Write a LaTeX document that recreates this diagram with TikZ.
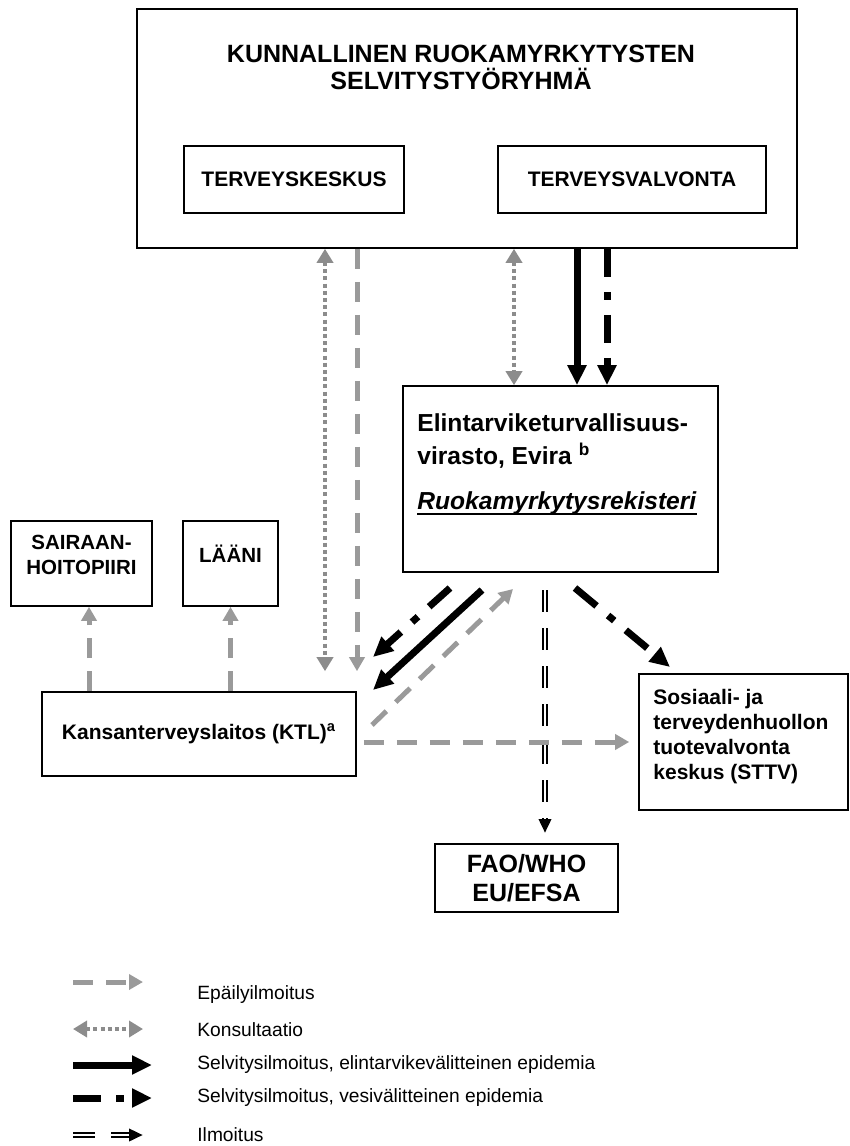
\documentclass[tikz,border=0pt]{standalone}
\usepackage{fontspec}
\setmainfont{Liberation Sans}
\usetikzlibrary{positioning, arrows.meta}
\definecolor{EpaGray}{HTML}{9A9A9A}
\definecolor{KonsGray}{HTML}{8C8C8C}
\newcommand{\regline}[1]{\leavevmode{\setbox0\hbox{#1}\rlap{\vrule height -1.8pt depth 2.9pt width \wd0}\box0}}

\begin{document}
\begin{tikzpicture}[x=0.5pt, y=-0.5pt,
    box/.style={draw, line width=0.8pt, inner sep=0pt},
    txt/.style={inner sep=0pt, font=\bfseries\fontsize{10.5}{12.5}\selectfont},
    legtext/.style={inner sep=0pt, anchor=west, font=\fontsize{9.6}{11}\selectfont},
    epa/.style={EpaGray, line width=2.5pt, dash pattern=on 10pt off 6.5pt, -{Triangle[length=7pt, width=7.5pt]}},
    kons/.style={KonsGray, line width=2.2pt, dash pattern=on 2pt off 1.6pt, {Triangle[length=7pt, width=8pt]}-{Triangle[length=7pt, width=8pt]}},
    selvr/.style={line width=3.5pt, -{Triangle[length=10pt, width=9pt]}},
    selvv/.style={line width=3.5pt, dash pattern=on 14pt off 7.5pt on 4pt off 7.5pt, -{Triangle[length=10pt, width=9pt]}},
    ilm/.style={line width=2.8pt, dash pattern=on 11pt off 8pt, -{Triangle[length=7pt, width=6pt]},
        postaction={draw=white, line width=1.4pt, -, shorten >=7pt}}
]
\useasboundingbox (0,0) rectangle (850,1146);

% municipal working group
\node[box, minimum width=330pt, minimum height=119.5pt] (kunta) at (467,128.5) {};
\node[txt, align=center, font=\bfseries\fontsize{12.5}{13.5}\selectfont] (kuntatitle) at (461,67) {KUNNALLINEN RUOKAMYRKYTYSTEN\\SELVITYSTYÖRYHMÄ};
\node[box, txt, minimum width=110pt, minimum height=33.5pt] (tk) at (294,179.5) {TERVEYSKESKUS};
\node[box, txt, minimum width=134pt, minimum height=33.5pt] (tv) at (632,179.5) {TERVEYSVALVONTA};

% Evira
\node[box, minimum width=157.5pt, minimum height=93pt] (evira) at (560.5,479) {};
\node[txt, anchor=north west, align=left, font=\bfseries\fontsize{12.3}{16.5}\selectfont] (eviratext) at (417,413)
    {Elintarviketurvallisuus-\\virasto, Evira \textsuperscript{b}\\[6pt]\regline{\textit{Ruokamyrkytysrekisteri}}};

% left side
\node[box, minimum width=70.5pt, minimum height=42.5pt] (shp) at (81.5,563.5) {};
\node[txt, align=center, font=\bfseries\fontsize{10.25}{12.5}\selectfont] (shptext) at (81.5,554.5) {SAIRAAN-\\HOITOPIIRI};
\node[box, minimum width=47.5pt, minimum height=42.5pt] (laani) at (230.5,563.5) {};
\node[txt, font=\bfseries\fontsize{10.25}{12.5}\selectfont] (laanitext) at (230.5,554) {LÄÄNI};
\node[box, txt, minimum width=157pt, minimum height=42pt] (ktl) at (199,734) {Kansanterveyslaitos (KTL)\textsuperscript{a}};

% right side and bottom
\node[box, minimum width=104.5pt, minimum height=68pt] (sttv) at (743.5,742) {};
\node[txt, anchor=north west, align=left] (sttvtext) at (653,689) {Sosiaali- ja\\terveydenhuollon\\tuotevalvonta\\keskus (STTV)};
\node[box, txt, align=center, minimum width=91.5pt, minimum height=34pt, font=\bfseries\fontsize{12.5}{14.5}\selectfont] (fao) at (526.5,878) {FAO/WHO\\EU/EFSA};

% free ends of the connectors below Evira
\coordinate (vesiA) at (450,588);
\coordinate (vesiB) at (373,657);
\coordinate (elinA) at (482,590);
\coordinate (elinB) at (373,690);
\coordinate (epaA) at (372,725);
\coordinate (epaB) at (513,589);
\coordinate (ilmA) at (545,590);
\coordinate (ilmB) at (545,833);
\coordinate (sttvA) at (575,588);
\coordinate (sttvB) at (670,667);

% connectors
\draw[ilm] (ilmA) -- (ilmB);
\draw[kons, shorten >=10pt] (kunta.south -| 325,0) -- (ktl.north -| 325,0);
\draw[epa, shorten >=10pt] (kunta.south -| 357,0) -- (ktl.north -| 357,0);
\draw[kons] (kunta.south -| 514,0) -- (evira.north -| 514,0);
\draw[selvr] (kunta.south -| 577,0) -- (evira.north -| 577,0);
\draw[selvv] (kunta.south -| 607,0) -- (evira.north -| 607,0);
\draw[epa] (ktl.north -| 89,0) -- (shp.south -| 89,0);
\draw[epa] (ktl.north -| 230.5,0) -- (laani.south);
\draw[selvv] (vesiA) -- (vesiB);
\draw[selvr] (elinA) -- (elinB);
\draw[epa] (epaA) -- (epaB);
\draw[selvv] (sttvA) -- (sttvB);
\draw[epa, shorten <=3.5pt, shorten >=4.5pt] (ktl.east |- 0,742) -- (sttv.west |- 0,742);

% legend
\coordinate (l1a) at (73,982);  \coordinate (l1b) at (143,982);
\coordinate (l2a) at (73,1029); \coordinate (l2b) at (143,1029);
\coordinate (l3a) at (73,1065); \coordinate (l3b) at (152,1065);
\coordinate (l4a) at (73,1098); \coordinate (l4b) at (152,1098);
\coordinate (l5a) at (73,1135); \coordinate (l5b) at (143,1135);
\draw[epa] (l1a) -- (l1b);
\draw[kons] (l2a) -- (l2b);
\draw[selvr] (l3a) -- (l3b);
\draw[selvv] (l4a) -- (l4b);
\draw[ilm] (l5a) -- (l5b);
\node[legtext] (leg1) at (197,995) {Epäilyilmoitus};
\node[legtext] (leg2) at (197,1030) {Konsultaatio};
\node[legtext] (leg3) at (197,1065) {Selvitysilmoitus, elintarvikevälitteinen epidemia};
\node[legtext] (leg4) at (197,1098) {Selvitysilmoitus, vesivälitteinen epidemia};
\node[legtext] (leg5) at (197,1135) {Ilmoitus};
\end{tikzpicture}
\end{document}
